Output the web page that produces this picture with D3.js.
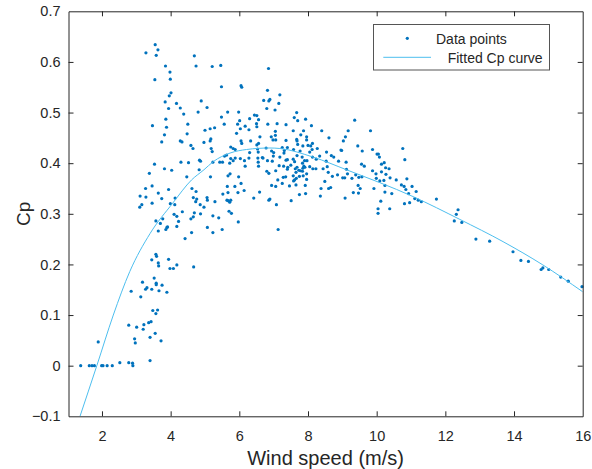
<!DOCTYPE html>
<html>
<head>
<meta charset="utf-8">
<script src="https://cdn.jsdelivr.net/npm/d3@7"></script>
<style>
  body { margin: 0; background: #fff; }
  svg text { font-family: "Liberation Sans", Arial, sans-serif; fill: #262626; }
</style>
</head>
<body>
<div id="graph"></div>
<script>
// measured points (wind speed m/s, Cp)
const windSpeed = [
  3.28,3.55,3.63,3.58,4.69,4.74,3.85,3.98,3.54,3.99,4.01,3.96,3.84,4.17,3.94,4.28,4.38,4.80,3.86,3.47,
  3.88,4.50,3.82,4.48,3.74,4.28,4.33,4.59,4.65,5.21,5.46,6.85,5.48,6.05,6.07,6.82,7.18,4.89,6.71,6.86,
  6.89,7.15,5.06,6.80,7.04,5.66,5.98,7.67,5.48,6.44,6.51,6.01,6.30,6.56,7.60,7.70,7.93,5.56,5.95,6.17,
  6.50,6.51,6.83,7.10,7.36,5.15,5.28,5.00,6.03,6.28,7.57,7.87,5.92,6.60,7.05,7.05,6.93,6.98,7.06,7.67,
  7.96,5.17,5.15,4.97,6.05,6.07,6.33,6.51,6.56,7.36,7.70,7.85,8.00,5.18,5.21,5.75,5.82,5.88,6.30,6.53,
  6.55,6.78,6.94,7.00,7.25,7.31,7.58,7.77,8.05,3.53,3.82,4.03,4.30,4.52,4.84,4.87,4.83,5.23,5.43,5.51,
  5.57,5.63,5.75,5.72,5.82,5.88,6.03,6.15,6.17,6.28,6.54,6.55,6.56,6.67,6.69,6.82,6.99,6.96,7.16,7.29,
  7.36,7.41,7.57,7.61,7.50,7.68,7.84,7.88,7.90,7.97,3.38,4.47,5.16,5.67,5.73,5.98,6.80,6.86,7.06,7.28,
  7.35,7.57,7.65,7.75,7.78,7.84,7.86,7.96,7.96,3.27,3.46,3.11,3.28,3.64,3.94,3.10,3.16,3.46,3.74,3.99,
  4.13,4.12,4.62,4.74,4.66,4.73,4.76,4.86,4.97,5.06,5.07,5.29,5.65,5.87,6.05,6.14,5.96,5.67,5.52,5.64,
  5.67,5.72,5.75,6.42,6.59,6.86,6.89,6.94,7.06,7.12,7.08,7.51,7.25,7.46,7.61,7.65,7.75,7.93,7.92,3.57,
  3.70,3.77,3.64,3.86,3.89,3.91,4.10,4.18,4.23,4.18,4.34,4.59,4.66,4.69,4.87,4.61,4.42,5.07,5.23,5.23,
  5.40,5.50,5.70,5.77,5.97,7.13,2.85,3.13,3.18,3.27,3.31,3.45,3.52,3.58,3.58,3.66,3.75,3.89,3.45,3.57,
  3.59,3.64,3.65,3.94,3.98,4.08,4.18,4.67,3.48,3.62,3.57,2.78,3.01,3.20,3.22,3.36,3.43,2.95,2.97,3.40,
  3.55,3.72,2.89,2.90,3.40,1.38,1.63,1.71,1.78,1.89,1.99,2.03,2.15,2.30,2.52,2.78,8.10,8.40,9.36,9.82,
  9.17,7.79,7.96,7.68,8.13,8.08,8.61,9.09,9.03,7.40,8.27,9.45,9.58,9.88,7.30,8.12,8.54,8.96,8.98,10.01,
  10.05,10.08,10.76,10.82,7.40,7.18,7.68,7.83,8.13,8.24,8.34,8.53,8.68,8.75,8.89,9.11,9.56,9.64,10.14,10.22,
  7.40,7.63,7.73,7.85,7.91,8.05,8.14,8.23,8.44,8.56,8.59,8.71,8.86,9.01,9.07,9.12,9.15,9.28,9.39,9.48,
  9.57,9.88,9.98,10.14,10.26,10.36,9.99,10.27,7.58,7.66,8.38,8.36,8.49,8.60,8.66,9.08,9.32,9.46,9.47,9.52,
  9.92,10.04,10.04,10.12,10.24,10.24,10.38,10.39,10.57,10.44,10.72,10.80,10.85,10.88,10.93,10.81,10.96,11.03,11.15,11.11,
  11.21,11.30,11.74,12.37,12.32,12.26,10.09,10.21,12.48,12.89,13.29,13.97,14.20,14.42,14.79,14.84,15.01,15.36,15.58,15.98
];
const cpValue = [
  0.618,0.634,0.624,0.613,0.612,0.592,0.592,0.580,0.565,0.566,0.539,0.533,0.521,0.518,0.508,0.509,0.497,0.501,0.487,0.474,
  0.471,0.477,0.456,0.458,0.442,0.444,0.442,0.435,0.429,0.591,0.593,0.587,0.551,0.553,0.550,0.544,0.535,0.523,0.524,0.523,
  0.526,0.518,0.510,0.508,0.505,0.501,0.501,0.500,0.491,0.495,0.494,0.484,0.488,0.486,0.490,0.484,0.487,0.477,0.477,0.473,
  0.478,0.472,0.477,0.478,0.476,0.468,0.470,0.465,0.468,0.466,0.464,0.464,0.459,0.452,0.463,0.455,0.452,0.446,0.446,0.447,
  0.446,0.448,0.444,0.441,0.444,0.439,0.444,0.436,0.439,0.445,0.437,0.434,0.435,0.429,0.423,0.432,0.429,0.427,0.421,0.428,
  0.422,0.430,0.424,0.421,0.431,0.425,0.427,0.424,0.422,0.398,0.389,0.386,0.402,0.401,0.406,0.404,0.387,0.402,0.402,0.402,
  0.414,0.416,0.409,0.400,0.405,0.410,0.409,0.405,0.394,0.410,0.410,0.402,0.394,0.411,0.410,0.405,0.414,0.404,0.395,0.394,
  0.406,0.392,0.408,0.403,0.396,0.392,0.400,0.394,0.405,0.405,0.380,0.373,0.373,0.375,0.379,0.373,0.384,0.380,0.385,0.372,
  0.373,0.375,0.382,0.374,0.385,0.384,0.375,0.379,0.368,0.350,0.355,0.335,0.333,0.341,0.348,0.313,0.318,0.321,0.330,0.320,
  0.331,0.318,0.350,0.344,0.332,0.324,0.329,0.318,0.313,0.332,0.327,0.324,0.354,0.354,0.360,0.346,0.342,0.342,0.339,0.327,
  0.326,0.323,0.327,0.331,0.343,0.327,0.329,0.356,0.354,0.367,0.318,0.326,0.360,0.355,0.367,0.357,0.338,0.340,0.356,0.286,
  0.281,0.290,0.266,0.269,0.273,0.274,0.299,0.295,0.285,0.275,0.304,0.290,0.294,0.302,0.300,0.263,0.251,0.273,0.296,0.263,
  0.292,0.269,0.305,0.301,0.284,0.269,0.147,0.136,0.165,0.151,0.154,0.151,0.173,0.163,0.160,0.148,0.159,0.145,0.209,0.220,
  0.216,0.203,0.197,0.210,0.192,0.192,0.199,0.195,0.109,0.110,0.103,0.080,0.076,0.072,0.081,0.085,0.087,0.053,0.045,0.056,
  0.064,0.049,0.005,0.000,0.010,0.000,0.000,0.000,0.000,0.047,0.000,0.000,0.000,0.000,0.006,0.006,0.474,0.464,0.485,0.464,
  0.464,0.456,0.452,0.444,0.439,0.434,0.450,0.452,0.444,0.431,0.429,0.434,0.424,0.427,0.420,0.427,0.422,0.426,0.425,0.418,
  0.418,0.412,0.429,0.407,0.407,0.412,0.415,0.412,0.412,0.408,0.414,0.404,0.415,0.412,0.404,0.402,0.398,0.394,0.398,0.401,
  0.388,0.389,0.386,0.390,0.392,0.393,0.389,0.389,0.389,0.393,0.382,0.374,0.377,0.371,0.371,0.388,0.379,0.370,0.377,0.372,
  0.373,0.385,0.379,0.383,0.391,0.389,0.370,0.378,0.365,0.370,0.350,0.335,0.364,0.350,0.352,0.331,0.342,0.356,0.341,0.350,
  0.350,0.310,0.301,0.325,0.343,0.356,0.310,0.371,0.367,0.340,0.357,0.354,0.348,0.369,0.340,0.320,0.322,0.354,0.344,0.330,
  0.327,0.324,0.329,0.308,0.299,0.286,0.365,0.366,0.283,0.250,0.246,0.225,0.208,0.206,0.190,0.193,0.190,0.175,0.167,0.156
];

// fitted curve
const fitSpeed = [1.36,1.85,2.33,2.81,3.40,4.06,4.61,4.97,5.24,5.73,6.21,6.89,7.18,8.15,9.12,11.06,12.42,13.68,14.84,16.0];
const fitCp    = [-0.1,0.0,0.1,0.186,0.261,0.321,0.367,0.387,0.403,0.420,0.427,0.430,0.429,0.412,0.387,0.334,0.289,0.245,0.199,0.146];

const xTicks = [2,4,6,8,10,12,14,16];
const yTicks = [-0.1,0,0.1,0.2,0.3,0.4,0.5,0.6,0.7];

let width = 592, height = 469;
let margin = {top: 11.3, right: 9.3, bottom: 52.7, left: 68.5};

let svg = d3.select("#graph")
    .append("svg")
    .attr("width", width)
    .attr("height", height);

let x = d3.scaleLinear()
    .domain([1.025, 16])
    .range([margin.left, width - margin.right]);

let y = d3.scaleLinear()
    .domain([-0.1, 0.7])
    .range([height - margin.bottom, margin.top]);

let plot = svg.append("g");

// points
plot.selectAll("circle")
    .data(windSpeed.map((v, i) => [v, cpValue[i]]))
    .enter()
    .append("circle")
    .attr("cx", d => x(d[0]))
    .attr("cy", d => y(d[1]))
    .attr("r", 1.6)
    .style("fill", "#0072BD");

// fitted curve
svg.append("clipPath").attr("id", "clip")
    .append("rect")
    .attr("x", margin.left).attr("y", margin.top)
    .attr("width", width - margin.left - margin.right)
    .attr("height", height - margin.top - margin.bottom);

plot.append("path")
    .datum(fitSpeed.map((v, i) => [v, fitCp[i]]))
    .attr("clip-path", "url(#clip)")
    .attr("fill", "none")
    .attr("stroke", "#4DBEEE")
    .attr("stroke-width", 1)
    .attr("d", d3.line().x(d => x(d[0])).y(d => y(d[1])).curve(d3.curveMonotoneX));

// axes, ticks inside, box on
let tk = 5;
let axB = svg.append("g")
    .attr("transform", "translate(0," + y.range()[0] + ")")
    .call(d3.axisBottom(x).tickValues(xTicks).tickSizeInner(-tk).tickSizeOuter(0).tickPadding(14).tickFormat(d3.format("d")));
let axT = svg.append("g")
    .attr("transform", "translate(0," + y.range()[1] + ")")
    .call(d3.axisTop(x).tickValues(xTicks).tickSizeInner(-tk).tickSizeOuter(0).tickFormat(""));
let axL = svg.append("g")
    .attr("transform", "translate(" + x.range()[0] + ",0)")
    .call(d3.axisLeft(y).tickValues(yTicks).tickSizeInner(-tk).tickSizeOuter(0).tickPadding(8).tickFormat(d => d3.format("")(+d.toFixed(1))));
let axR = svg.append("g")
    .attr("transform", "translate(" + x.range()[1] + ",0)")
    .call(d3.axisRight(y).tickValues(yTicks).tickSizeInner(-tk).tickSizeOuter(0).tickFormat(""));

[axB, axT, axL, axR].forEach(a => {
    a.selectAll("path, line").attr("stroke", "#262626");
    a.selectAll("text").style("font-size", "14.5px").attr("fill", "#262626")
        .style("font-family", "'Liberation Sans', Arial, sans-serif");
});
// hide tick marks at the corners
axB.selectAll(".tick").filter(d => d === 16).select("line").remove();
axT.selectAll(".tick").filter(d => d === 16).select("line").remove();
axL.selectAll(".tick").filter(d => d === 0.7 || d === -0.1).select("line").remove();
axR.selectAll(".tick").filter(d => d === 0.7 || d === -0.1).select("line").remove();

// axis labels
svg.append("text")
    .attr("x", (x.range()[0] + x.range()[1]) / 2)
    .attr("y", 465)
    .attr("text-anchor", "middle")
    .style("font-size", "20px")
    .text("Wind speed (m/s)");

svg.append("text")
    .attr("transform", "translate(30," + (y.range()[0] + y.range()[1]) / 2 + ") rotate(-90)")
    .attr("text-anchor", "middle")
    .style("font-size", "19px")
    .text("Cp");

// legend
let lg = svg.append("g");
lg.append("rect")
    .attr("x", 373.5).attr("y", 24.5)
    .attr("width", 176).attr("height", 45.5)
    .attr("fill", "#fff")
    .attr("stroke", "#555")
    .attr("stroke-width", 1);
lg.append("circle")
    .attr("cx", 407.3).attr("cy", 38.3).attr("r", 1.6)
    .style("fill", "#0072BD");
lg.append("line")
    .attr("x1", 383.3).attr("x2", 431).attr("y1", 57.3).attr("y2", 57.3)
    .attr("stroke", "#4DBEEE");
lg.append("text").attr("x", 436).attr("y", 43.5).style("font-size", "14px").text("Data points");
lg.append("text").attr("x", 447.7).attr("y", 62.5).style("font-size", "14px").text("Fitted Cp curve");
</script>
</body>
</html>
